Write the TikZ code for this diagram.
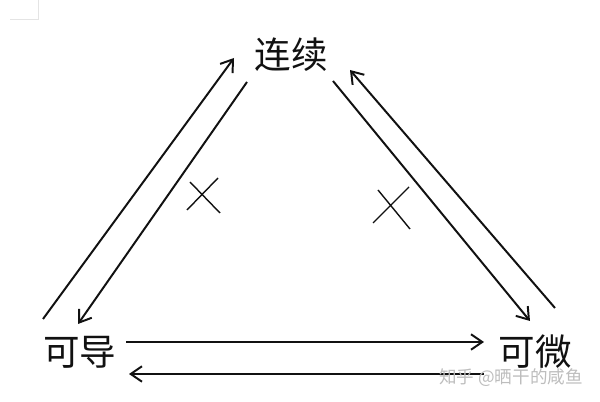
\documentclass[tikz,border=0pt]{standalone}
\usepackage{fontspec}
\usetikzlibrary{arrows.meta}
\newfontfamily\cjk{Noto Sans CJK SC}
\definecolor{inkblack}{HTML}{111111}
\definecolor{markgray}{HTML}{E4E4E4}
\definecolor{wmgray}{HTML}{BDBDBD}
\tikzset{
  concept/.style={text=inkblack, font=\cjk\fontsize{26}{30}\selectfont, inner sep=0pt},
  implies/.style={draw=inkblack, line width=1.4pt, -{Straight Barb[length=8pt, width=11pt, line width=1.4pt]}},
  notmark/.style={draw=inkblack, line width=1pt}
}
\begin{document}
\begin{tikzpicture}
        \useasboundingbox (0,0) rectangle (15,10.05);
        \draw[markgray, line width=0.6pt] (0.95,10.05) -- (0.95,9.575) -- (0.25,9.575);
        \node[concept] (lianxu) at (7.275,8.675) {连续};
        \node[concept] (kedao) at (2.0,1.25) {可导};
        \node[concept] (kewei) at (13.375,1.25) {可微};
        \coordinate (dao up) at (1.075,2.075);
        \coordinate (lx in left) at (5.85,8.6);
        \coordinate (lx out left) at (6.175,8.0);
        \coordinate (dao in) at (1.95,1.95);
        \coordinate (lx out right) at (8.325,8.025);
        \coordinate (wei in) at (13.25,2.025);
        \coordinate (wei up) at (13.875,2.35);
        \coordinate (lx in right) at (8.75,8.3);
        \coordinate (dao right) at (3.15,1.5);
        \coordinate (wei left) at (12.1,1.5);
        \coordinate (wei low) at (12.1,0.7);
        \coordinate (dao low) at (3.225,0.7);
        \draw[implies] (dao up) -- (lx in left);
        \draw[implies] (lx out left) -- (dao in);
        \draw[implies] (lx out right) -- (wei in);
        \draw[implies] (wei up) -- (lx in right);
        \draw[implies] (dao right) -- (wei left);
        \draw[implies] (wei low) -- (dao low);
        \draw[notmark] (4.75,5.5) -- (5.5,4.725) (5.45,5.6) -- (4.675,4.8);
        \draw[notmark] (9.45,5.3) -- (10.25,4.325) (10.225,5.375) -- (9.325,4.475);
        \node[text=wmgray, font=\cjk\fontsize{12.5}{14}\selectfont, inner sep=0pt] (watermark) at (12.775,0.6) {知乎 @晒干的咸鱼};
      \end{tikzpicture}
\end{document}
